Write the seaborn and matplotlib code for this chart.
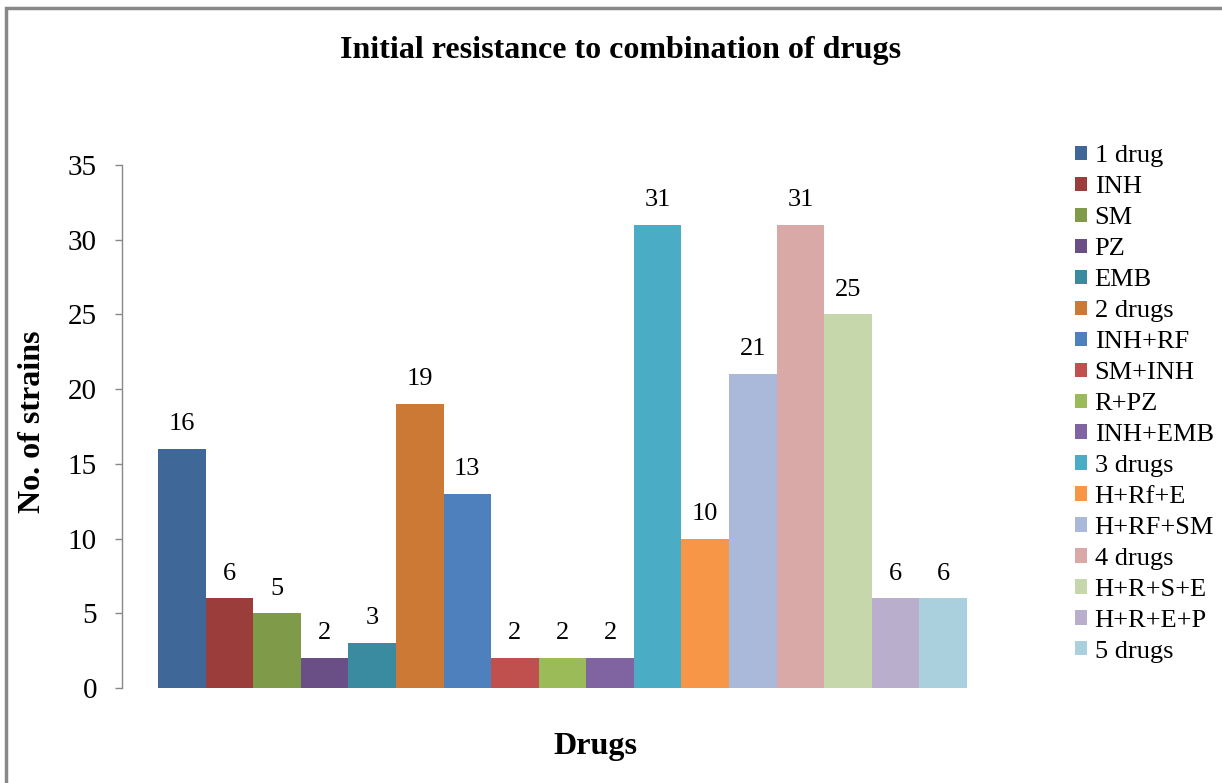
import matplotlib
matplotlib.use("Agg")
import matplotlib.pyplot as plt
import seaborn as sns
import pandas as pd
from matplotlib.patches import Rectangle

# data
categories = ['1 drug', 'INH', 'SM', 'PZ', 'EMB', '2 drugs', 'INH+RF', 'SM+INH',
              'R+PZ', 'INH+EMB', '3 drugs', 'H+Rf+E', 'H+RF+SM', '4 drugs',
              'H+R+S+E', 'H+R+E+P', '5 drugs']
strains = [16, 6, 5, 2, 3, 19, 13, 2, 2, 2, 31, 10, 21, 31, 25, 6, 6]
colors = ['#3F6797', '#9B3D3B', '#7F9A48', '#694F86', '#3A8BA0', '#CB7935',
          '#4E80BD', '#C0504D', '#9BBB59', '#8064A2', '#4BACC6', '#F79646',
          '#AAB9D9', '#D9A9A8', '#C6D7AC', '#B9AECB', '#A9D0DC']
y_ticks = [0, 5, 10, 15, 20, 25, 30, 35]

sns.set_theme(style="white")
plt.rcParams['font.family'] = ['Liberation Serif', 'DejaVu Serif']
plt.rcParams['text.color'] = 'black'
plt.rcParams['axes.labelcolor'] = 'black'
plt.rcParams['ytick.labelcolor'] = 'black'

df = pd.DataFrame({'Drugs': categories, 'No. of strains': strains})

fig = plt.figure(figsize=(12.22, 7.83), dpi=100)
ax = fig.add_axes([0.0998, 0.1213, 0.7210, 0.6680])

sns.barplot(data=df, x='Drugs', y='No. of strains', hue='Drugs',
            palette=colors, width=1.0, linewidth=0, saturation=1,
            legend=True, ax=ax)

# value labels above each bar
for i, v in enumerate(strains):
    ax.annotate(str(v), (i, v), xytext=(0, 13.5), textcoords='offset points',
                ha='center', va='baseline', fontsize=19, color='black')

ax.set_xlim(-1.256, 17.256)
ax.set_ylim(0, 35)
ax.set_yticks(y_ticks)
ax.tick_params(axis='y', which='both', left=True, length=5, width=1,
               color='#888888', labelsize=21, pad=13)
ax.set_xticks([])
for s in ['top', 'right', 'bottom']:
    ax.spines[s].set_visible(False)
ax.spines['left'].set_color('#888888')
ax.spines['left'].set_linewidth(1)

ax.set_xlabel('')
ax.set_ylabel('')
fig.text(0.487, 0.047, 'Drugs', ha='center', va='center',
         fontsize=23, fontweight='bold')
fig.text(0.027, 0.462, 'No. of strains', ha='center', va='center',
         rotation=90, fontsize=23, fontweight='bold')

handles, labels = ax.get_legend_handles_labels()
ax.get_legend().remove()
fig.legend(handles, labels, loc='upper left', bbox_to_anchor=(0.871, 0.828),
           frameon=False, fontsize=19, handlelength=0.45, handleheight=0.45,
           handletextpad=0.3, labelspacing=0.34, borderaxespad=0)

fig.text(0.508, 0.936, 'Initial resistance to combination of drugs',
         ha='center', va='center', fontsize=23, fontweight='bold')

# outer chart border (cropped on right and bottom in the reference)
fig.patches.append(Rectangle((0.005, -0.1), 1.2, 1.09, transform=fig.transFigure,
                             fill=False, edgecolor='#888888', linewidth=2.5))

fig.savefig('out.png', dpi=100)
